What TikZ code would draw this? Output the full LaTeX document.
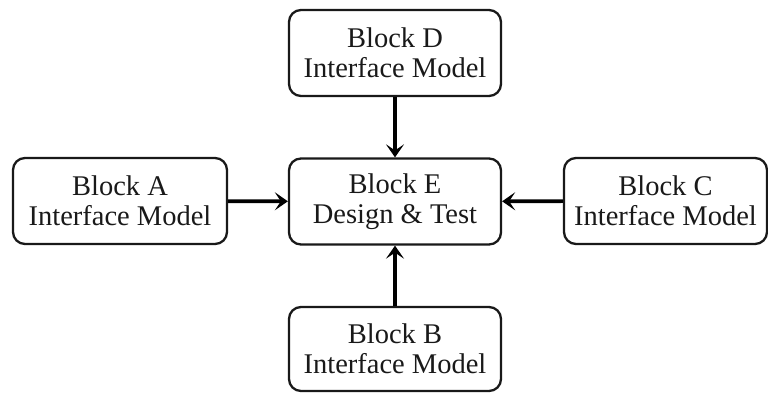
\documentclass[tikz,border=0pt]{standalone}
\usepackage{fontspec}
\setmainfont{Liberation Serif}
\usetikzlibrary{arrows.meta}
\begin{document}
\begin{tikzpicture}[x=1pt,y=-1pt,
  blockbox/.style={draw=black!90,line width=2.3pt,rounded corners=12pt,
    align=center,inner sep=0pt,
    font=\fontsize{28.5}{30}\selectfont,text=black!90},
  link/.style={line width=3.6pt,draw=black,
    -{Stealth[length=13pt,width=18pt,inset=6pt]}}]
  \useasboundingbox (0,0) rectangle (768,392);
  \node[blockbox,minimum width=212pt,minimum height=86pt] (d) at (395,53) {Block D\\Interface Model};
  \node[blockbox,minimum width=212pt,minimum height=86pt] (e) at (395,201.5) {Block E\\Design \& Test};
  \node[blockbox,minimum width=214pt,minimum height=86pt] (a) at (120,201) {Block A\\Interface Model};
  \node[blockbox,minimum width=203pt,minimum height=86pt] (c) at (665.5,201) {Block C\\Interface Model};
  \node[blockbox,minimum width=212pt,minimum height=84pt] (b) at (395,349) {Block B\\Interface Model};
  \draw[link] (d) -- (e);
  \draw[link] (a) -- (e);
  \draw[link] (c) -- (e);
  \draw[link] (b) -- (e);
\end{tikzpicture}
\end{document}
